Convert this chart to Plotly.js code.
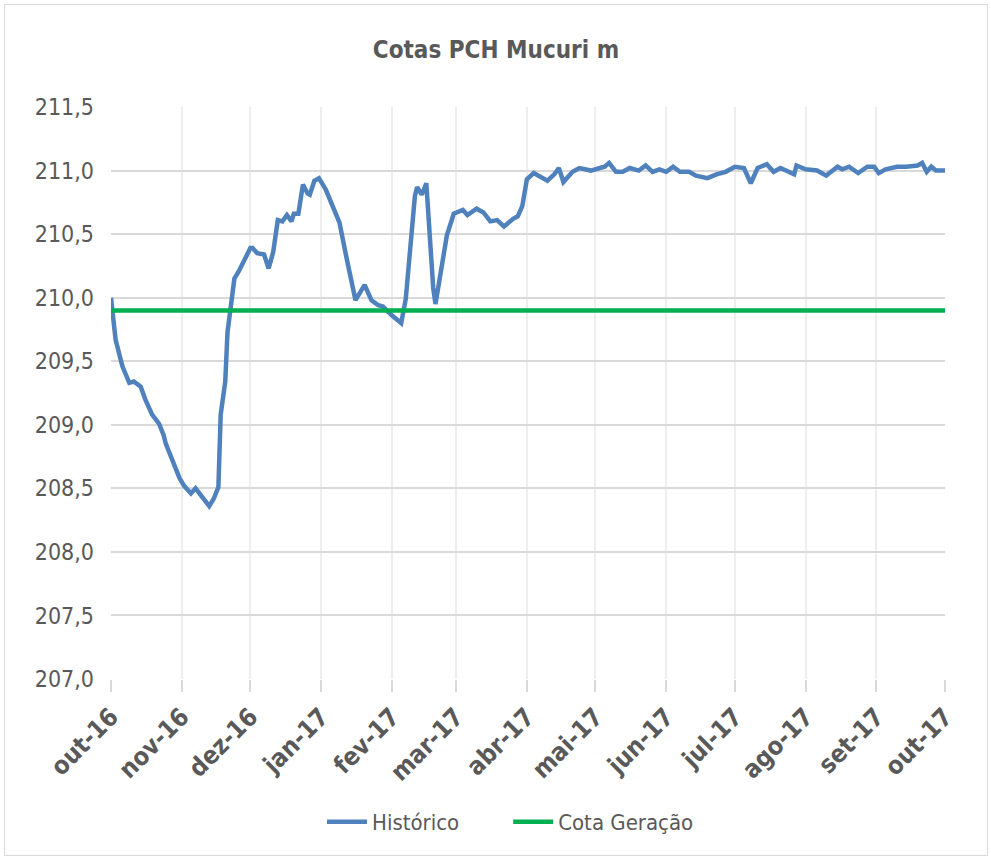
<!DOCTYPE html>
<html>
<head>
<meta charset="utf-8">
<script src="https://cdn.plot.ly/plotly-3.0.1.min.js"></script>
<style>
  html, body { margin: 0; padding: 0; background: #ffffff; }
  #frame { position: absolute; left: 4px; top: 4px; width: 982px; height: 850px; border: 1px solid #d9d9d9; }
  #chart { width: 982px; height: 850px; }
</style>
</head>
<body>
<div id="frame"><div id="chart"></div></div>
<script>
// Start date of the series and day offsets from it
const startDate = "2016-10-01";
const dayOffsets = [0,1,2,5,8,10,12,13,15,18,21,23,24,26,28,30,32,35,37,40,43,45,47,48,50,51,53,54,56,59,61,62,64,67,69,71,73,75,77,79,80,82,84,86,87,89,91,94,97,100,103,105,107,111,114,117,119,123,127,129,131,133,134,136,138,139,141,142,144,147,150,153,154,156,160,163,166,169,172,176,178,180,182,185,188,191,194,196,198,202,205,210,214,216,218,221,224,227,231,234,237,240,243,246,249,253,256,261,265,269,273,277,280,283,287,290,293,296,299,300,304,309,313,318,320,323,327,331,334,336,339,344,348,353,355,357,359,361,365];
const historico = [210.00,209.85,209.67,209.46,209.33,209.34,209.32,209.30,209.20,209.08,209.01,208.92,208.85,208.76,208.66,208.58,208.52,208.46,208.50,208.43,208.36,208.42,208.51,209.08,209.34,209.73,209.99,210.15,210.21,210.33,210.39,210.39,210.35,210.34,210.23,210.36,210.61,210.60,210.65,210.60,210.66,210.66,210.89,210.82,210.81,210.92,210.94,210.85,210.72,210.59,210.32,210.15,209.98,210.10,209.98,209.94,209.93,209.86,209.80,209.99,210.38,210.80,210.87,210.81,210.90,210.64,210.08,209.95,210.17,210.49,210.66,210.68,210.69,210.65,210.70,210.67,210.60,210.61,210.56,210.62,210.64,210.72,210.93,210.98,210.95,210.92,210.97,211.02,210.91,210.99,211.02,211.00,211.02,211.03,211.06,210.99,210.99,211.02,211.00,211.04,210.99,211.01,210.99,211.03,210.99,210.99,210.96,210.94,210.97,210.99,211.03,211.02,210.90,211.02,211.05,210.99,211.02,210.99,210.97,211.04,211.01,211.00,210.96,211.03,211.01,211.03,210.98,211.03,211.03,210.98,211.01,211.03,211.03,211.04,211.06,210.99,211.03,211.00,211.00];
const cotaGeracao = 209.9;
const tickDates = ["2016-10-01","2016-11-01","2016-12-01","2017-01-01","2017-02-01","2017-03-01","2017-04-01","2017-05-01","2017-06-01","2017-07-01","2017-08-01","2017-09-01","2017-10-01"];
const tickLabels = ["out-16","nov-16","dez-16","jan-17","fev-17","mar-17","abr-17","mai-17","jun-17","jul-17","ago-17","set-17","out-17"];
const yTicks = [207.0,207.5,208.0,208.5,209.0,209.5,210.0,210.5,211.0,211.5];

const t0 = Date.parse(startDate + "T00:00:00Z");
function isoDay(ms) { return new Date(ms).toISOString().slice(0, 10); }
const dates = dayOffsets.map(d => isoDay(t0 + d * 86400000));
const lineDates = [tickDates[0], tickDates[tickDates.length - 1]];

const FONT = "'DejaVu Sans Condensed', 'Liberation Sans Narrow', sans-serif";
const GREY = "#595959";
const PAD = "\u00A0\u00A0\u00A0\u00A0\u00A0\u00A0\u00A0";

const traces = [
  { x: dates, y: historico, type: "scatter", mode: "lines", name: "Histórico" + PAD,
    line: { color: "#4F81BD", width: 4.5 } },
  { x: lineDates, y: [cotaGeracao, cotaGeracao], type: "scatter", mode: "lines", name: "Cota Geração",
    line: { color: "#00B050", width: 4.5 } }
];

const layout = {
  width: 982, height: 850,
  margin: { l: 106, r: 42, t: 102, b: 172 },
  paper_bgcolor: "#ffffff", plot_bgcolor: "#ffffff",
  separators: ",.",
  font: { family: FONT, color: GREY },
  title: { text: "<b>Cotas PCH Mucuri m</b>", font: { family: FONT, size: 24, color: GREY },
           x: 0.5, xanchor: "center", y: 0.947, yanchor: "middle" },
  showlegend: true,
  legend: { orientation: "h", x: 0.253, xanchor: "left", y: -0.25, yanchor: "middle",
            font: { family: FONT, size: 22, color: GREY }, itemwidth: 40,
            tracegroupgap: 0 },
  xaxis: {
    type: "date", automargin: false,
    range: [tickDates[0], tickDates[tickDates.length - 1]],
    tickmode: "array", tickvals: tickDates, ticktext: tickLabels.map(s => "<b>" + s + "</b>"),
    tickangle: -45, tickfont: { family: FONT, size: 25, color: GREY },
    showgrid: true, gridcolor: "#eeeeee", gridwidth: 2,
    ticks: "outside", ticklen: 12, tickcolor: "#d9d9d9", tickwidth: 2,
    showline: false, zeroline: false, fixedrange: true
  },
  yaxis: {
    automargin: false,
    range: [207.0, 211.5],
    tickmode: "array", tickvals: yTicks, tickformat: ".1f",
    tickfont: { family: FONT, size: 23, color: GREY },
    showgrid: true, gridcolor: "#d9d9d9", gridwidth: 2,
    ticks: "", ticklabelstandoff: 16, showline: false, zeroline: false, fixedrange: true
  }
};

Plotly.newPlot("chart", traces, layout, { staticPlot: true, displayModeBar: false });
</script>
</body>
</html>
